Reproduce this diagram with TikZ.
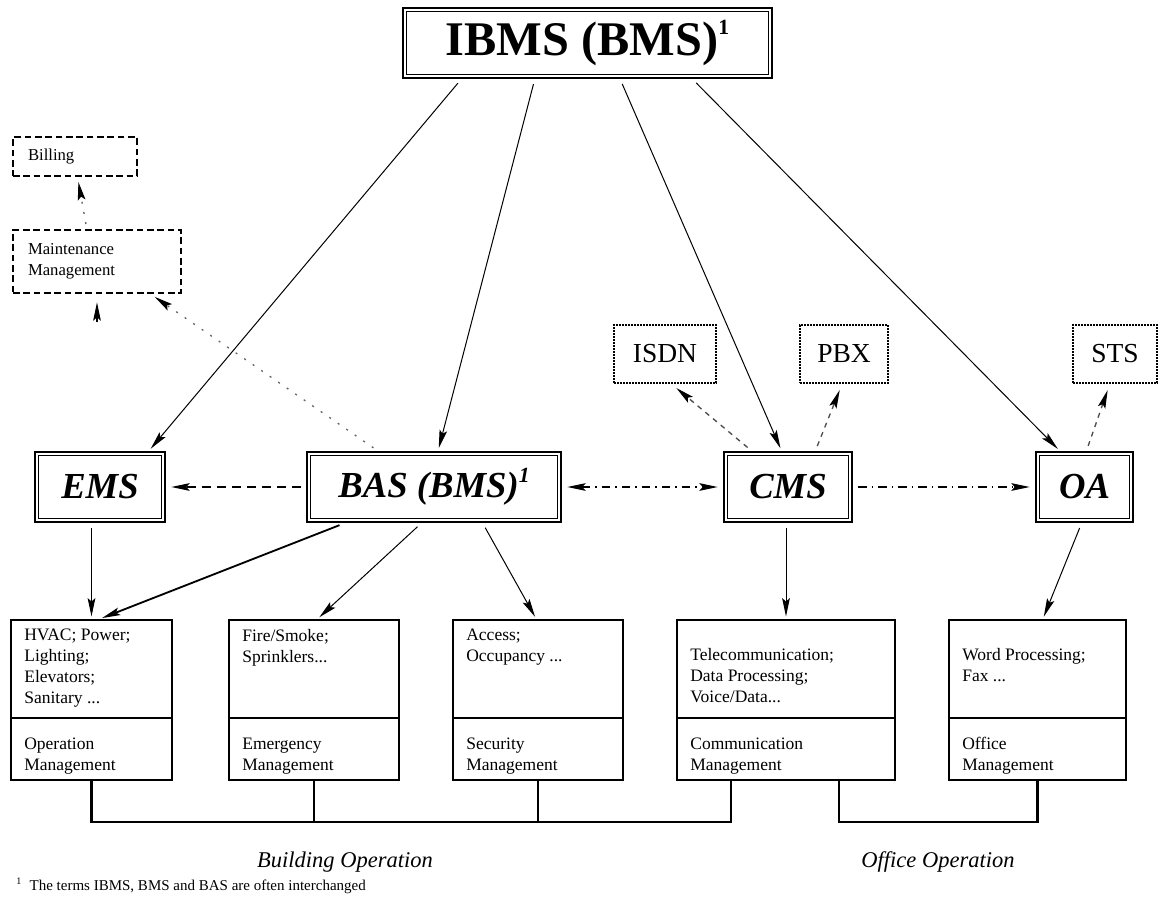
\documentclass[tikz,border=0pt]{standalone}
\usepackage{fontspec}
\setmainfont{Liberation Serif}
\usetikzlibrary{arrows.meta,calc}
\newcommand{\supone}[1]{\raisebox{0.42em}{\fontsize{#1}{#1}\selectfont 1}}
\begin{document}
\begin{tikzpicture}[x=0.6pt,y=-0.6pt,
  tip/.style={-{Stealth[length=11pt,width=4.6pt,inset=2pt,color=black]}},
  mainbox/.style={draw,line width=1.6pt,inner sep=0pt,minimum height=42pt,
    font=\fontsize{22}{26}\selectfont\bfseries\itshape},
  dotbox/.style={draw,line width=0.9pt,dash pattern=on 1pt off 0.8pt,inner sep=0pt,
    minimum height=34.8pt,font=\fontsize{16.5}{19}\selectfont},
  dashbox/.style={draw,line width=1.2pt,dash pattern=on 4pt off 2.2pt,inner xsep=9pt,
    align=left,font=\fontsize{10}{12.6}\selectfont},
  partbox/.style={draw,line width=1.2pt,inner sep=0pt},
  txt/.style={inner sep=0pt,align=left,font=\fontsize{10.5}{12.6}\selectfont},
  solidarr/.style={tip,line width=0.6pt,shorten <=3pt,shorten >=1.5pt},
  heavyarr/.style={tip,line width=1.1pt,shorten <=3pt,shorten >=1.5pt},
  dashedarr/.style={tip,line width=0.8pt,dash pattern=on 5pt off 4pt,shorten <=3pt,shorten >=3pt},
  dashdotarr/.style={line width=0.8pt,dash pattern=on 5pt off 3pt on 1pt off 3pt,shorten <=3pt,shorten >=3pt},
  lightarr/.style={tip,line width=0.8pt,black!60,dash pattern=on 1.2pt off 5pt,shorten <=3pt,shorten >=3pt},
  faintarr/.style={tip,line width=0.8pt,black!70,dash pattern=on 3pt off 3pt,shorten <=3pt,shorten >=4pt},
  bus/.style={line width=1.5pt}
]
\fill[white] (0,0) rectangle (1159,899);
\useasboundingbox (0,0) rectangle (1159,899);

% --- top level system
\node[mainbox,minimum width=221.4pt,font=\fontsize{29}{32}\selectfont\bfseries] (ibms) at (587.5,43) {IBMS (BMS)\supone{13}};

% --- subsystems
\node[mainbox,minimum width=78pt]    (ems) at (100,487)    {EMS};
\node[mainbox,minimum width=152.4pt] (bas) at (434,487)    {BAS (BMS)\supone{13}};
\node[mainbox,minimum width=76.8pt]  (cms) at (788,487)    {CMS};
\node[mainbox,minimum width=58.2pt]  (oa)  at (1084.5,487) {OA};

\foreach \n in {ibms,ems,bas,cms,oa}
  \draw[line width=0.7pt] ([shift={(4.5,4.5)}]\n.north west) rectangle ([shift={(-4.5,-4.5)}]\n.south east);

% --- optional services
\node[dotbox,minimum width=61.2pt] (isdn) at (665,354)  {ISDN};
\node[dotbox,minimum width=52.8pt] (pbx)  at (844,354)  {PBX};
\node[dotbox,minimum width=50.4pt] (sts)  at (1115,354) {STS};

\node[dashbox,text width=56.4pt,minimum height=23.4pt] (bill)  at (75,156.5) {Billing};
\node[dashbox,text width=82.8pt,minimum height=37.8pt] (maint) at (97,261.5) {Maintenance\\Management};

% --- functional areas (upper and lower parts)
\node[partbox,minimum width=96.6pt,minimum height=58.8pt] (b1t) at (91.5,669) {};
\node[partbox,minimum width=96.6pt,minimum height=37.2pt] (b1b) at (91.5,749) {};
\node[partbox,minimum width=102pt,minimum height=58.8pt]  (b2t) at (314,669) {};
\node[partbox,minimum width=102pt,minimum height=37.2pt]  (b2b) at (314,749) {};
\node[partbox,minimum width=102pt,minimum height=58.8pt]  (b3t) at (538,669) {};
\node[partbox,minimum width=102pt,minimum height=37.2pt]  (b3b) at (538,749) {};
\node[partbox,minimum width=130.8pt,minimum height=58.8pt] (b4t) at (786,669) {};
\node[partbox,minimum width=130.8pt,minimum height=37.2pt] (b4b) at (786,749) {};
\node[partbox,minimum width=106.2pt,minimum height=58.8pt] (b5t) at (1037.5,669) {};
\node[partbox,minimum width=106.2pt,minimum height=37.2pt] (b5b) at (1037.5,749) {};

\node[txt,anchor=north west] (b1tx) at ([shift={(14,10)}]b1t.north west) {HVAC; Power;\\Lighting;\\Elevators;\\Sanitary ...};
\node[txt,anchor=north west] (b1bx) at ([shift={(14,21)}]b1b.north west) {Operation\\Management};
\node[txt,anchor=north west] (b2tx) at ([shift={(14,10)}]b2t.north west) {Fire/Smoke;\\Sprinklers...};
\node[txt,anchor=north west] (b2bx) at ([shift={(14,21)}]b2b.north west) {Emergency\\Management};
\node[txt,anchor=north west] (b3tx) at ([shift={(14,10)}]b3t.north west) {Access;\\Occupancy ...};
\node[txt,anchor=north west] (b3bx) at ([shift={(14,21)}]b3b.north west) {Security\\Management};
\node[txt,anchor=north west] (b4tx) at ([shift={(14,29)}]b4t.north west) {Telecommunication;\\Data Processing;\\Voice/Data...};
\node[txt,anchor=north west] (b4bx) at ([shift={(14,21)}]b4b.north west) {Communication\\Management};
\node[txt,anchor=north west] (b5tx) at ([shift={(14,29)}]b5t.north west) {Word Processing;\\Fax ...};
\node[txt,anchor=north west] (b5bx) at ([shift={(14,20)}]b5b.north west) {Office\\Management};

% --- IBMS to subsystems
\draw[solidarr] ($(ibms.south west)!0.16!(ibms.south east)$)  -- ($(ems.north west)!0.87!(ems.north east)$);
\draw[solidarr] ($(ibms.south west)!0.358!(ibms.south east)$) -- ($(bas.north west)!0.516!(bas.north east)$);
\draw[solidarr] ($(ibms.south west)!0.588!(ibms.south east)$) -- ($(cms.north west)!0.45!(cms.north east)$);
\draw[solidarr] ($(ibms.south west)!0.783!(ibms.south east)$) -- ($(oa.north west)!0.25!(oa.north east)$);

% --- links between subsystems
\draw[dashedarr] (bas.west) -- (ems.east);
\draw[dashdotarr,{Stealth[length=11pt,width=4.6pt,inset=2pt]}-{Stealth[length=11pt,width=4.6pt,inset=2pt]}] (bas.east) -- (cms.west);
\draw[dashdotarr,tip] (cms.east) -- (oa.west);

% --- optional services
\draw[lightarr] ($(bas.north west)!0.28!(bas.north east)$) -- ($(maint.south west)!0.815!(maint.south east)$);
\draw[lightarr] ($(maint.north west)!0.44!(maint.north east)$) -- ($(bill.south west)!0.52!(bill.south east)$);
\coordinate (mstub) at (97,322);
\draw[tip,line width=0.8pt,shorten >=5pt] (mstub) -- (maint.south);
\draw[faintarr] ($(cms.north west)!0.22!(cms.north east)$) -- ($(isdn.south west)!0.56!(isdn.south east)$);
\draw[faintarr] ($(cms.north west)!0.71!(cms.north east)$) -- ($(pbx.south west)!0.48!(pbx.south east)$);
\draw[faintarr] ($(oa.north west)!0.52!(oa.north east)$) -- ($(sts.south west)!0.44!(sts.south east)$);

% --- subsystems to functional areas
\draw[solidarr] (ems.south -| b1t.north) -- (b1t.north);
\draw[heavyarr] ($(bas.south west)!0.15!(bas.south east)$) -- ($(b1t.north west)!0.55!(b1t.north east)$);
\draw[solidarr] ($(bas.south west)!0.45!(bas.south east)$) -- ($(b2t.north west)!0.52!(b2t.north east)$);
\draw[solidarr] ($(bas.south west)!0.69!(bas.south east)$) -- ($(b3t.north west)!0.49!(b3t.north east)$);
\draw[solidarr] (cms.south -| b4t.north) -- (b4t.north);
\draw[solidarr] ($(oa.south west)!0.47!(oa.south east)$) -- ($(b5t.north west)!0.53!(b5t.north east)$);

% --- operation buses
\coordinate (busy) at (0,822);
\coordinate (b4l) at ($(b4b.south west)!0.25!(b4b.south east)$);
\coordinate (b4r) at ($(b4b.south west)!0.74!(b4b.south east)$);
\draw[bus] (b1b.south) |- (b4l |- busy) -- (b4l);
\draw[bus] (b2b.south) -- (b2b.south |- busy);
\draw[bus] (b3b.south) -- (b3b.south |- busy);
\draw[bus] (b4r) |- (b5b.south |- busy) -- (b5b.south);

\node[font=\fontsize{13.5}{16}\selectfont\itshape] (bldop) at (345,862) {Building Operation};
\node[font=\fontsize{13.5}{16}\selectfont\itshape] (offop) at (938,862) {Office Operation};
\node[anchor=west,inner sep=0pt,font=\fontsize{9}{11}\selectfont] (note) at (16,886) {\textsuperscript{1}\ \ The terms IBMS, BMS and BAS are often interchanged};
\end{tikzpicture}
\end{document}
